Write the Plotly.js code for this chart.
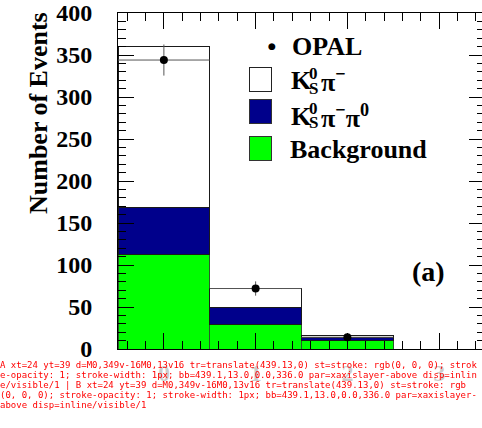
<!DOCTYPE html>
<html>
<head>
<meta charset="utf-8">
<script src="https://cdn.plot.ly/plotly-3.0.1.min.js"></script>
<style>
  html, body { margin: 0; padding: 0; overflow: hidden; background: #fff; }
  #wrap { position: relative; width: 490px; height: 428px; }
  #chart, #labels { position: absolute; left: 0; top: 0; width: 490px; height: 428px; }
  #dbg { position: fixed; left: 0; top: 360px; width: 480px; font: 9px monospace; color: red; z-index: 10; word-break: break-all; background: rgba(255,255,255,0.8); }
</style>
</head>
<body>
<div id="wrap">
  <div id="chart"></div>
  <div id="labels"></div>
</div>
<div id="dbg"></div>
<script>
const logs = [];
const origWarn = console.warn, origErr = console.error, origLog = console.log;
console.warn = function () { logs.push('W:' + Array.from(arguments).join(' ')); origWarn.apply(console, arguments); };
console.error = function () { logs.push('E:' + Array.from(arguments).join(' ')); origErr.apply(console, arguments); };
console.log = function () { logs.push('L:' + Array.from(arguments).join(' ')); origLog.apply(console, arguments); };
window.addEventListener('error', e => logs.push('X:' + e.message));

const categories = [0, 1, 2, 3];
const tickLabels = ['0', '1', '2', '3'];
const background = [112, 29, 10, 0];
const ksPiPi0 = [57, 21, 4, 0];
const ksPi = [191, 22, 2, 0];
const opalBins = [0, 1, 2];
const opalEvents = [344, 72, 14];
const opalErrors = [18.5, 8.5, 3.7];

const FONT = 'Liberation Serif, Times New Roman, serif';
const W = 490, H = 428;
const M = { l: 118, r: 5, t: 13, b: 79 };
const PW = W - M.l - M.r, PH = H - M.t - M.b;
const toPaperX = x => (x - M.l) / PW;
const toPaperY = y => (H - M.b - y) / PH;

const barLine = { color: '#1a1a1a', width: 1 };
const traces = [
  { type: 'bar', name: 'Background', x: categories, y: background, width: 1,
    marker: { color: '#00ff00', line: { color: '#2a5a2a', width: 1 } } },
  { type: 'bar', name: 'K0S pi- pi0', x: categories, y: ksPiPi0, width: 1,
    marker: { color: '#00008b', line: barLine } },
  { type: 'bar', name: 'K0S pi-', x: categories, y: ksPi, width: 1,
    marker: { color: '#ffffff', line: barLine } },
  { type: 'scatter', mode: 'markers', name: 'OPAL', x: opalBins, y: opalEvents,
    marker: { color: '#000', size: 8 },
    error_y: { type: 'data', array: opalErrors, color: '#555', thickness: 1, width: 0 },
    error_x: { type: 'constant', value: 0.5, color: '#555', thickness: 1, width: 0 } }
];

const axisCommon = {
  showline: true, linecolor: '#000', linewidth: 1, mirror: 'ticks',
  ticks: 'inside', ticklen: 16, tickwidth: 1, tickcolor: '#000',
  showgrid: false, zeroline: false, fixedrange: true,
  tickfont: { family: FONT, size: 24, color: '#000', weight: 'bold' }
};

const layout = {
  width: W, height: H, margin: M,
  barmode: 'stack', bargap: 0, showlegend: false,
  xaxis: Object.assign({}, axisCommon, {
    range: [-0.5, 3.5], tickmode: 'array', tickvals: categories, ticktext: tickLabels,
    ticklabelstandoff: 2,
    minor: { tickmode: 'linear', tick0: 0, dtick: 0.2, ticks: 'inside', ticklen: 8, tickcolor: '#000', tickwidth: 1 }
  }),
  yaxis: Object.assign({}, axisCommon, {
    range: [0, 400], tickmode: 'linear', tick0: 0, dtick: 50,
    ticklabelstandoff: 20,
    minor: { tickmode: 'linear', tick0: 0, dtick: 10, ticks: 'inside', ticklen: 8, tickcolor: '#000', tickwidth: 1 }
  })
};

const legendFont = { family: FONT, size: 26, color: '#000', weight: 'bold' };
const smallFont = { family: FONT, size: 17, color: '#000', weight: 'bold' };
const ann = (x, y, text, font, extra) => Object.assign({
  xref: 'paper', yref: 'paper', x: toPaperX(x), y: toPaperY(y), text: text, font: font,
  showarrow: false, xanchor: 'left', yanchor: 'middle'
}, extra || {});
const swatch = (yTop, fill, border) => ann(249, yTop, ' ', { size: 10 }, {
  yanchor: 'top', width: 21, height: 23, borderpad: 0, borderwidth: 1,
  bgcolor: fill, bordercolor: border
});
const annotations = [
  ann(272, 46, '●', { family: 'DejaVu Sans', size: 9, color: '#000' }, { xanchor: 'center' }),
  swatch(67, '#ffffff', '#222'),
  swatch(99, '#00008b', '#333'),
  swatch(136, '#00ff00', '#333'),
  ann(290, 47, 'OPAL', legendFont),
  ann(289, 81, 'K', legendFont),
  ann(307, 73, '0', smallFont),
  ann(307, 88, 'S', smallFont),
  ann(319, 81, 'π<sup>−</sup>', legendFont),
  ann(289, 116, 'K', legendFont),
  ann(307, 108, '0', smallFont),
  ann(307, 123, 'S', smallFont),
  ann(319, 116, 'π<sup>−</sup>π<sup>0</sup>', legendFont),
  ann(288, 149, 'Background', legendFont),
  ann(428, 271, '(a)', { family: FONT, size: 28, color: '#000', weight: 'bold' }, { xanchor: 'center' }),
  ann(38, 113, 'Number of Events', { family: FONT, size: 26, color: '#000', weight: 'bold' },
      { xanchor: 'center', textangle: -90 })
];
const labelLayout = {
  width: W, height: H, margin: M, showlegend: false,
  paper_bgcolor: 'rgba(0,0,0,0)', plot_bgcolor: 'rgba(0,0,0,0)',
  xaxis: { visible: false, range: [0, 1], fixedrange: true },
  yaxis: { visible: false, range: [0, 1], fixedrange: true },
  annotations: annotations
};

const cfg = { staticPlot: true, displayModeBar: false };
const gd = document.getElementById('chart');
function report(tag) {
  const t = gd.querySelectorAll('path.xtick'), y = gd.querySelectorAll('path.ytick');
  let s = tag + ' xt=' + t.length + ' yt=' + y.length;
  if (t.length) {
    const p = t[t.length - 1];
    const r = p.getBoundingClientRect();
    s += ' d=' + p.getAttribute('d') + ' tr=' + p.getAttribute('transform') + ' st=' + p.getAttribute('style') +
      ' bb=' + [r.x, r.y, r.width, r.height].map(v => v.toFixed(1)).join(',') +
      ' par=' + (p.parentNode && p.parentNode.getAttribute('class')) +
      ' disp=' + getComputedStyle(p).display + '/' + getComputedStyle(p).visibility + '/' + getComputedStyle(p).opacity;
  }
  return s;
}
Plotly.newPlot(gd, traces, layout, cfg)
  .then(() => { logs.push(report('A')); return Plotly.newPlot('labels', [], labelLayout, cfg); })
  .then(() => {
    logs.push(report('B'));
    document.getElementById('dbg').textContent = logs.join(' | ');
  })
  .catch(e => { document.getElementById('dbg').textContent = 'ERR ' + e + ' | ' + logs.join(' | '); });
</script>
</body>
</html>
